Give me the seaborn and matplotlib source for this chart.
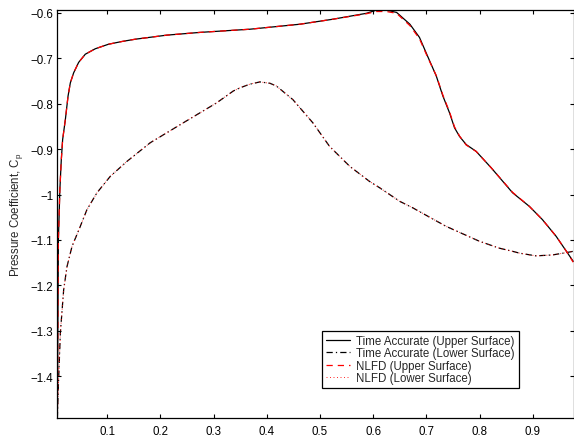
import matplotlib
matplotlib.use("Agg")
import matplotlib.pyplot as plt
import seaborn as sns
import pandas as pd

# ---- data ----
upper_x = [0.0062, 0.0071, 0.0081, 0.0109, 0.0135, 0.0161, 0.0212, 0.0263, 0.0306, 0.0368, 0.0462,
           0.0587, 0.0775, 0.1024, 0.1276, 0.1525, 0.212, 0.274, 0.368, 0.462, 0.524,
           0.587, 0.606, 0.625, 0.644, 0.669, 0.687, 0.704, 0.7186, 0.731, 0.7435,
           0.7529, 0.7623, 0.7749, 0.7936, 0.8218, 0.862, 0.8936, 0.918, 0.944, 0.965, 0.976]
upper_ta = [-1.492, -1.298, -1.100, -0.989, -0.925, -0.879, -0.835, -0.783, -0.754, -0.732, -0.709,
            -0.691, -0.679, -0.669, -0.663, -0.658, -0.649, -0.643, -0.636, -0.625, -0.614,
            -0.601, -0.594, -0.594, -0.599, -0.625, -0.654, -0.700, -0.739, -0.783, -0.820,
            -0.853, -0.872, -0.890, -0.905, -0.941, -0.996, -1.026, -1.055, -1.092, -1.128, -1.147]
upper_nlfd = [-1.492, -1.298, -1.100, -0.989, -0.925, -0.879, -0.835, -0.783, -0.754, -0.732, -0.709,
              -0.691, -0.679, -0.669, -0.663, -0.658, -0.649, -0.643, -0.636, -0.625, -0.614,
              -0.602, -0.597, -0.597, -0.601, -0.628, -0.657, -0.702, -0.738, -0.781, -0.818,
              -0.851, -0.871, -0.891, -0.905, -0.941, -0.995, -1.026, -1.055, -1.092, -1.128, -1.149]

lower_x = [0.0062, 0.0071, 0.0118, 0.0180, 0.0244, 0.0338, 0.0493, 0.0619, 0.0807, 0.1056,
           0.137, 0.1807, 0.243, 0.3058, 0.337, 0.3495, 0.368, 0.387, 0.4058, 0.418,
           0.449, 0.4865, 0.518, 0.556, 0.593, 0.612, 0.650, 0.674, 0.737, 0.800,
           0.837, 0.862, 0.875, 0.906, 0.937, 0.9625, 0.976]
lower_ta = [-1.492, -1.453, -1.305, -1.210, -1.158, -1.114, -1.070, -1.033, -0.996, -0.960,
            -0.927, -0.886, -0.842, -0.798, -0.772, -0.765, -0.757, -0.752, -0.755, -0.761,
            -0.791, -0.842, -0.894, -0.938, -0.971, -0.985, -1.015, -1.029, -1.070, -1.103,
            -1.118, -1.125, -1.129, -1.135, -1.133, -1.128, -1.125]
lower_nlfd = list(lower_ta)

x_ticks = [0.1, 0.2, 0.3, 0.4, 0.5, 0.6, 0.7, 0.8, 0.9]
y_ticks = [-1.4, -1.3, -1.2, -1.1, -1.0, -0.9, -0.8, -0.7, -0.6]
y_tick_labels = ["\u22121.4", "\u22121.3", "\u22121.2", "\u22121.1", "\u22121",
                 "\u22120.9", "\u22120.8", "\u22120.7", "\u22120.6"]

labels = ["Time Accurate (Upper Surface)", "Time Accurate (Lower Surface)",
          "NLFD (Upper Surface)", "NLFD (Lower Surface)"]

sns.set_theme(style="ticks")
plt.rcParams['font.family'] = ['Liberation Sans', 'DejaVu Sans']
plt.rcParams['mathtext.fontset'] = 'custom'
plt.rcParams['mathtext.rm'] = 'Liberation Sans'
plt.rcParams['mathtext.it'] = 'Liberation Sans'

fs = 8.3
fig = plt.figure(figsize=(5.74, 4.39), dpi=100)
ax = fig.add_axes([57/574, 1 - 419/439, 1 - 57/574 - 0.0005, (419 - 10.7)/439])

df_u = pd.DataFrame({"x": upper_x, "ta": upper_ta, "nlfd": upper_nlfd})
df_l = pd.DataFrame({"x": lower_x, "ta": lower_ta, "nlfd": lower_nlfd})

lw = 0.9
sns.lineplot(data=df_u, x="x", y="ta", ax=ax, sort=False, color="black", lw=lw,
             linestyle="-", label=labels[0], estimator=None)
sns.lineplot(data=df_l, x="x", y="ta", ax=ax, sort=False, color="black", lw=lw,
             linestyle=(0, (5, 2.5, 1, 2.5)), label=labels[1], estimator=None)
sns.lineplot(data=df_u, x="x", y="nlfd", ax=ax, sort=False, color="red", lw=lw,
             linestyle=(0, (5, 4)), label=labels[2], estimator=None)
sns.lineplot(data=df_l, x="x", y="nlfd", ax=ax, sort=False, color="red", lw=lw * 0.8,
             linestyle=(0, (1, 2.5)), label=labels[3], estimator=None, alpha=0.8)

ax.set_xlim(0.0055, 0.977)
ax.set_ylim(-1.492, -0.593)
ax.set_xticks(x_ticks)
ax.set_xticklabels([f"{t:g}" for t in x_ticks])
ax.set_yticks(y_ticks)
ax.set_yticklabels(y_tick_labels)
ax.set_xlabel("")
ax.set_ylabel(r"Pressure Coefficient, C$_\mathregular{p}$", fontsize=fs, labelpad=4)

for s in ax.spines.values():
    s.set_visible(True)
    s.set_linewidth(0.9)
    s.set_color("black")
ax.tick_params(direction="in", length=3.2, width=0.8, colors="black", labelsize=fs,
               top=True, right=True)
ax.tick_params(axis="x", pad=5)
ax.tick_params(axis="y", pad=2.5)

leg = ax.legend(loc="lower right", bbox_to_anchor=(0.8936, 0.0735), borderaxespad=0,
                fontsize=fs, frameon=True, fancybox=False, edgecolor="black",
                handlelength=2.1, handletextpad=0.55, labelspacing=0.02, borderpad=0.35)
leg.get_frame().set_linewidth(0.9)
leg.get_frame().set_alpha(1)

fig.savefig("out.png", dpi=100)
